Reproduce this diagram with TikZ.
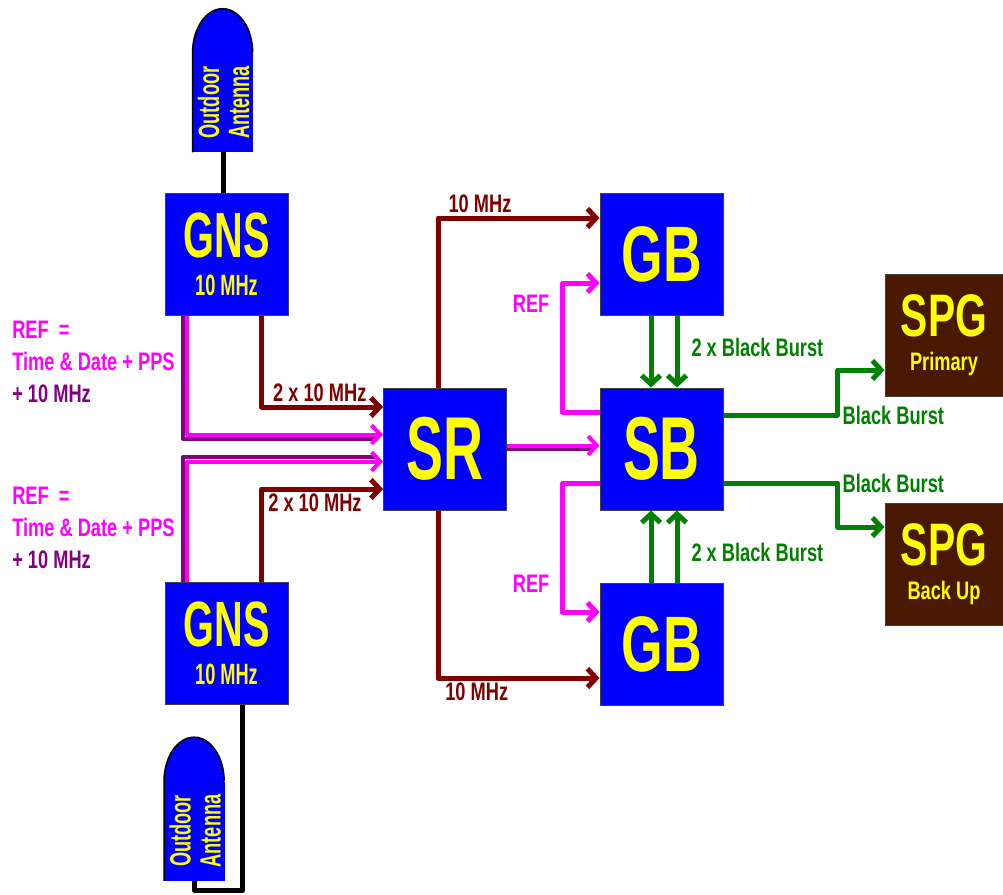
\documentclass[tikz,border=0pt]{standalone}
\usepackage{fontspec}
\usepackage{graphicx}
\usepackage{tikz}
\usetikzlibrary{arrows.meta,positioning,calc}
\setmainfont{Liberation Sans}
\newfontfamily\boxfont{Liberation Sans}[FakeStretch=0.62]
\newfontfamily\gbfont{Liberation Sans}[FakeStretch=0.68]
\newfontfamily\labelfont{Liberation Sans}[FakeStretch=0.72]
\definecolor{unitblue}{HTML}{0000FF}
\definecolor{unityellow}{HTML}{FFFF00}
\definecolor{spgbrown}{HTML}{4A1800}
\definecolor{mhzred}{HTML}{800000}
\definecolor{refpink}{HTML}{FF00FF}
\definecolor{refpurple}{HTML}{800080}
\definecolor{bbgreen}{HTML}{008000}

\tikzset{
  unit/.style={draw=black!75, line width=0.75pt, fill=unitblue, text=unityellow,
    minimum width=92.25pt, minimum height=91.5pt, inner sep=0pt, align=center},
  spg/.style={unit, fill=spgbrown, minimum width=88.5pt,
    font=\labelfont\bfseries\fontsize{19}{18}\selectfont},
  antenna/.style={fill=unitblue, text=unityellow, minimum width=45pt,
    minimum height=74.25pt, inner sep=0pt,
    font=\boxfont\bfseries\fontsize{22}{22.5}\selectfont},
  barb/.style={-{Straight Barb[length=6.5pt,width=14pt]}},
  cable/.style={line width=3.75pt, draw=black, line join=round},
  mhz/.style={line width=3.75pt, draw=mhzred, line join=round, barb},
  ref/.style={line width=3.75pt, draw=refpink, line join=round, barb},
  refpk/.style={line width=3pt, draw=refpink, line join=round, barb},
  refpp/.style={line width=3pt, draw=refpurple, line join=round, shorten >=4pt},
  bb/.style={line width=3.75pt, draw=bbgreen, line join=round, barb},
  lab/.style={font=\labelfont\bfseries\fontsize{19}{24}\selectfont, inner sep=2pt},
}

\begin{document}
\begin{tikzpicture}[x=0.75pt,y=-0.75pt]
\useasboundingbox (0,0) rectangle (1003,894);

\node[antenna] (antA) at (223,102.5) {\rotatebox{90}{\raisebox{-3.75pt}[\height][\depth]{\begin{tabular}{@{}c@{}}Outdoor\\Antenna\end{tabular}}}};
\fill[unitblue] (antA.north west) arc[start angle=180,end angle=0,x radius=22.5pt,y radius=33pt] -- ($(antA.north east)+(0,3)$) -- ($(antA.north west)+(0,3)$) -- cycle;
\draw[line width=1.2pt] (antA.south west) -- (antA.north west) arc[start angle=180,end angle=0,x radius=22.5pt,y radius=33pt];
\node[antenna] (antB) at (194.5,831) {\rotatebox{90}{\raisebox{-3.75pt}[\height][\depth]{\begin{tabular}{@{}c@{}}Outdoor\\Antenna\end{tabular}}}};
\fill[unitblue] (antB.north west) arc[start angle=180,end angle=0,x radius=22.5pt,y radius=33pt] -- ($(antB.north east)+(0,3)$) -- ($(antB.north west)+(0,3)$) -- cycle;
\draw[line width=1.2pt] (antB.south west) -- (antB.north west) arc[start angle=180,end angle=0,x radius=22.5pt,y radius=33pt];

\node[unit, font=\boxfont\bfseries\fontsize{22}{22}\selectfont] (gnsA) at (226.5,254) {{\fontsize{48}{48}\selectfont GNS}\\[6.5pt]10 MHz};
\node[unit, font=\boxfont\bfseries\fontsize{22}{22}\selectfont] (gnsB) at (226.5,643) {{\fontsize{48}{48}\selectfont GNS}\\[6.5pt]10 MHz};
\node[unit, font=\boxfont\bfseries\fontsize{67}{67}\selectfont] (sr) at (445,449) {SR};
\node[unit, font=\gbfont\bfseries\fontsize{59}{59}\selectfont] (gbA) at (661.5,254) {GB};
\node[unit, font=\boxfont\bfseries\fontsize{67}{67}\selectfont] (sb) at (661.5,449) {SB};
\node[unit, font=\gbfont\bfseries\fontsize{59}{59}\selectfont] (gbB) at (661.5,644) {GB};
\node[spg] (spgA) at (944,335) {{\gbfont\fontsize{45}{45}\selectfont SPG}\\[7.5pt]Primary};
\node[spg] (spgB) at (944,564) {{\gbfont\fontsize{45}{45}\selectfont SPG}\\[7.5pt]Back Up};

\node[lab, text=refpink, align=left, anchor=north west, inner sep=0pt] (refA) at (12,321) {REF\ \ =\\Time \& Date + PPS\\\textcolor{refpurple}{+ 10 MHz}};
\node[lab, text=refpink, align=left, anchor=north west, inner sep=0pt] (refB) at (12,487) {REF\ \ =\\Time \& Date + PPS\\\textcolor{refpurple}{+ 10 MHz}};

\draw[cable] (antA.south) -- (antA.south |- gnsA.north);
\draw[cable] (antB.south) -- ++(0,10) -| ($(gnsB.south west)+(78,0)$);

\draw[mhz] ($(gnsA.south west)+(97,0)$) |- node[lab, text=mhzred, above, pos=0.74] {2 x 10 MHz} ($(sr.west)+(0,-42)$);
\draw[mhz] ($(gnsB.north west)+(97,0)$) |- node[lab, text=mhzred, below, pos=0.72] {2 x 10 MHz} ($(sr.west)+(0,40)$);
\draw[refpp] ($(gnsA.south west)+(18.5,0)$) |- ($(sr.west)+(0,-10.5)$);
\draw[refpk] ($(gnsA.south west)+(22.5,0)$) |- ($(sr.west)+(0,-14.5)$);
\draw[refpp] ($(gnsB.north west)+(18.5,0)$) |- ($(sr.west)+(0,8)$);
\draw[refpk] ($(gnsB.north west)+(22.5,0)$) |- ($(sr.west)+(0,12.5)$);

\draw[mhz] ($(sr.north west)+(55,0)$) |- node[lab, text=mhzred, above, pos=0.63] {10 MHz} ($(gbA.west)+(0,-36)$);
\draw[mhz] ($(sr.south west)+(55,0)$) |- node[lab, text=mhzred, below, pos=0.62] {10 MHz} ($(gbB.west)+(0,34)$);
\draw[refpp, line width=2.25pt] ($(sr.east)+(0,0.5)$) -- ($(sb.west)+(0,0.5)$);
\draw[refpk] ($(sr.east)+(0,-3.5)$) -- ($(sb.west)+(0,-3.5)$);

\draw[ref] ($(sb.west)+(0,-37)$) -| node[lab, text=refpink, left=6pt, pos=0.92] {REF} ($(gbA.west)+(-37,29)$) -- ($(gbA.west)+(0,29)$);
\draw[ref] ($(sb.west)+(0,34)$) -| node[lab, text=refpink, left=6pt, pos=0.89] {REF} ($(gbB.west)+(-37,-32)$) -- ($(gbB.west)+(0,-32)$);

\draw[bb] ($(gbA.south)+(-10.5,0)$) -- ($(sb.north)+(-10.5,0)$);
\draw[bb] ($(gbA.south)+(15.5,0)$) -- node[lab, text=bbgreen, right=7pt, pos=0.45] {2 x Black Burst} ($(sb.north)+(15.5,0)$);
\draw[bb] ($(gbB.north)+(-10.5,0)$) -- ($(sb.south)+(-10.5,0)$);
\draw[bb] ($(gbB.north)+(15.5,0)$) -- node[lab, text=bbgreen, right=7pt, pos=0.42] {2 x Black Burst} ($(sb.south)+(15.5,0)$);

\draw[bb] ($(sb.east)+(0,-34)$) -| node[lab, text=bbgreen, right, pos=0.5] {Black Burst} ($(spgA.west)+(-47,35)$) -- ($(spgA.west)+(0,35)$);
\draw[bb] ($(sb.east)+(0,34)$) -| node[lab, text=bbgreen, right, pos=0.5] {Black Burst} ($(spgB.west)+(-47,-37)$) -- ($(spgB.west)+(0,-37)$);
\end{tikzpicture}
\end{document}
